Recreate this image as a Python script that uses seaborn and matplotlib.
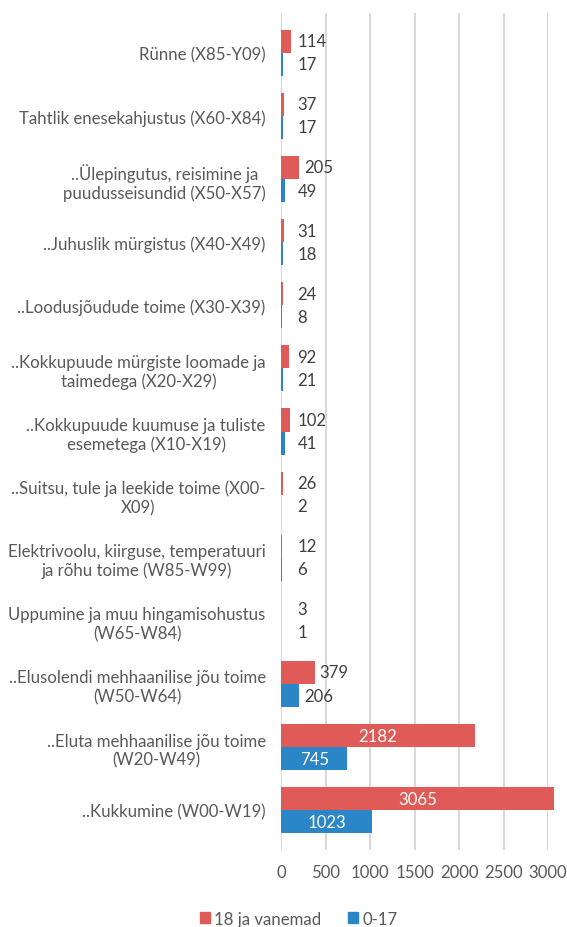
import pandas as pd
import seaborn as sns
import matplotlib.pyplot as plt

categories = [
    "Rünne (X85-Y09)",
    "Tahtlik enesekahjustus (X60-X84)",
    "..Ülepingutus, reisimine ja\npuudusseisundid (X50-X57)",
    "..Juhuslik mürgistus (X40-X49)",
    "..Loodusjõudude toime (X30-X39)",
    "..Kokkupuude mürgiste loomade ja\ntaimedega (X20-X29)",
    "..Kokkupuude kuumuse ja tuliste\nesemetega (X10-X19)",
    "..Suitsu, tule ja leekide toime (X00-\nX09)",
    "Elektrivoolu, kiirguse, temperatuuri\nja rõhu toime (W85-W99)",
    "Uppumine ja muu hingamisohustus\n(W65-W84)",
    "..Elusolendi mehhaanilise jõu toime\n(W50-W64)",
    "..Eluta mehhaanilise jõu toime\n(W20-W49)",
    "..Kukkumine (W00-W19)",
]
adults = [114, 37, 205, 31, 24, 92, 102, 26, 12, 3, 379, 2182, 3065]
children = [17, 17, 49, 18, 8, 21, 41, 2, 6, 1, 206, 745, 1023]
series = ["18 ja vanemad", "0-17"]
colors = ["#E05A58", "#2A86C6"]
xticks = [0, 500, 1000, 1500, 2000, 2500, 3000]

df = pd.DataFrame({
    "cat": categories * 2,
    "value": adults + children,
    "series": [series[0]] * len(categories) + [series[1]] * len(categories),
})

sns.set_style("white")
plt.rcParams["font.family"] = ["Lato", "DejaVu Sans"]
text_color = "#595959"
fs = 12.1

fig = plt.figure(figsize=(5.67, 9.28), dpi=100)
ax = fig.add_axes([281 / 567, 1 - 851 / 928, (548 - 281) / 567, (851 - 14) / 928])

sns.barplot(data=df, x="value", y="cat", hue="series", orient="h",
            palette=colors, width=0.73, gap=0, saturation=1,
            legend=False, ax=ax)

for p in ax.patches:
    p.set_clip_on(False)
    p.set_linewidth(0)

ax.set_xlim(0, 3000)
ax.set_ylim(len(categories) - 1 + 0.63, -0.63)
ax.set_xticks(xticks)
ax.set_xticklabels([str(t) for t in xticks])
ax.set_xlabel("")
ax.set_ylabel("")
ax.xaxis.grid(True, color="#D9D9D9", linewidth=1.5)
ax.yaxis.grid(False)
for s in ax.spines.values():
    s.set_visible(False)
ax.tick_params(axis="x", length=0, pad=10, labelsize=fs, labelcolor=text_color)
ax.tick_params(axis="y", length=0, pad=11, labelsize=fs, labelcolor=text_color)
for lbl in ax.get_yticklabels():
    lbl.set_multialignment("center")

# value labels
for container, vals in zip(ax.containers, [adults, children]):
    for bar, v in zip(container, vals):
        yc = bar.get_y() + bar.get_height() / 2
        if v >= 700:
            ax.text(v / 2, yc, str(v), ha="center", va="center",
                    color="white", fontsize=fs)
        else:
            ax.annotate(str(v), (max(v, 130), yc), xytext=(3.5, 0),
                        textcoords="offset points", ha="left", va="center",
                        color="#404040", fontsize=fs)

handles = [plt.Rectangle((0, 0), 1, 1, color=c) for c in colors]
fig.legend(handles, series, loc="center", bbox_to_anchor=(0.527, 0.009),
           ncol=2, frameon=False, fontsize=fs, handlelength=0.6,
           handleheight=0.6, handletextpad=0.25, columnspacing=1.6,
           labelcolor=text_color)

plt.savefig("out.png", dpi=100)
